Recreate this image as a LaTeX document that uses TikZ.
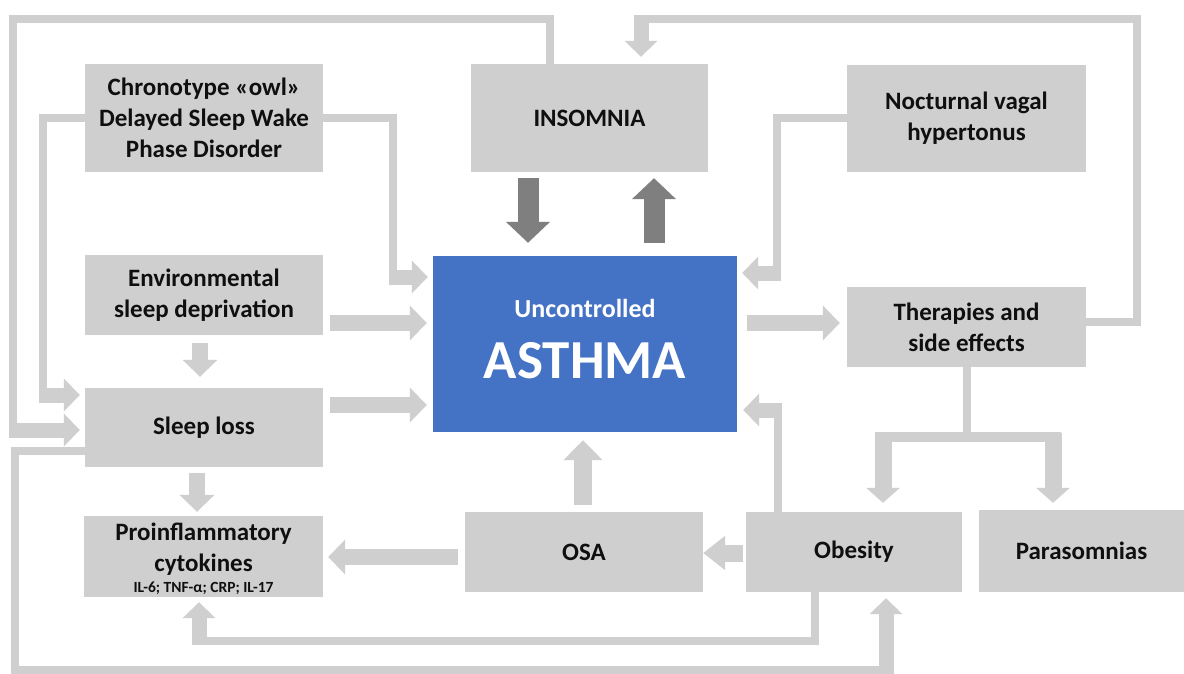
\documentclass[tikz,border=0pt]{standalone}
\usepackage{fontspec}
\setmainfont{Carlito}
\usetikzlibrary{arrows.meta,calc}
\definecolor{boxgray}{RGB}{208,207,207}
\definecolor{arrgray}{RGB}{207,207,207}
\definecolor{darkarr}{RGB}{127,127,127}
\definecolor{asthmablue}{RGB}{68,114,196}
\definecolor{txt}{RGB}{15,15,15}
\tikzset{
  box/.style={fill=boxgray,draw=none,inner sep=0pt,align=center,text=txt,
    font=\fontsize{25}{31}\selectfont\bfseries},
  conn/.style={draw=arrgray,line width=8pt,line join=miter},
  fatb/.style={draw=arrgray,line width=15pt,-{Triangle[width=32pt,length=16pt]}},
  fat/.style={draw=arrgray,line width=16pt,-{Triangle[width=34pt,length=17pt]}},
  darkarrow/.style={draw=darkarr,line width=21pt,-{Triangle[width=43pt,length=21pt]}},
}
\begin{document}
\begin{tikzpicture}[x=1pt,y=-1pt]
\useasboundingbox[fill=white] (0,0) rectangle (1184,674);

% boxes
\node[box,minimum width=238pt,minimum height=108pt] (chrono) at (204,118) {Chronotype «owl»\\Delayed Sleep Wake\\Phase Disorder};
\node[box,minimum width=238pt,minimum height=80pt] (env) at (204,295) {Environmental\\sleep deprivation};
\node[box,minimum width=238pt,minimum height=79pt] (sleep) at (204,427.5) {Sleep loss};
\node[box,minimum width=239pt,minimum height=81pt] (proinf) at (203.5,556.5) {};
\node[box,fill=none] (proinftxt) at (203.5,549) {Proinflammatory\\cytokines};
\node[box,fill=none,font=\fontsize{15.5}{17}\selectfont\bfseries] (cyto) at (203.5,588) {IL-6; TNF-α; CRP; IL-17};
\node[box,minimum width=237pt,minimum height=108pt] (insom) at (589.5,118) {INSOMNIA};
\node[fill=asthmablue,draw=none,minimum width=304pt,minimum height=176pt,inner sep=0pt] (asthma) at (585,344) {};
\node[text=white,font=\fontsize{26}{30}\selectfont\bfseries] (unc) at (585,308) {Uncontrolled};
\node[text=white,font=\fontsize{55}{60}\selectfont\bfseries] (asthmatxt) at (585,361) {ASTHMA};
\node[box,minimum width=239pt,minimum height=107pt] (noct) at (966.5,118.5) {Nocturnal vagal\\hypertonus};
\node[box,minimum width=239pt,minimum height=80pt] (ther) at (966.5,327) {Therapies and\\side effects};
\node[box,minimum width=238pt,minimum height=80pt] (osa) at (584,552) {OSA};
\node[box,minimum width=216pt,minimum height=80pt] (obes) at (854,552) {Obesity};
\node[box,minimum width=205pt,minimum height=82pt] (para) at (1081.5,551) {Parasomnias};

% straight arrows
\draw[fat] ($(env.east)+(7,28)$) -- ($(asthma.west)+(-6,-21)$);
\draw[fat] ($(sleep.east)+(7,-22.5)$) -- ($(asthma.west)+(-6,61)$);
\draw[fat] ($(env.south)+(-4,8)$) -- ($(sleep.north)+(-4,-11)$);
\draw[fat] ($(sleep.south)+(-7,6)$) -- ($(proinf.north)+(-6.5,-4)$);
\draw[fat] ($(asthma.east)+(10,-21)$) -- ($(ther.west)+(-7,-4)$);
\draw[draw=arrgray,line width=18pt,-{Triangle[width=38pt,length=20pt]}] ($(osa.north)+(-1,-7)$) -- ($(asthma.south)+(-2,8)$);
\draw[draw=arrgray,line width=17pt,-{Triangle[width=33pt,length=22pt]}] ($(obes.west)+(-3,1)$) -- ($(osa.east)+(0,1)$);
\draw[fat] ($(osa.west)+(-7,5)$) -- ($(proinf.east)+(5,0.5)$);

% dark arrows
\draw[darkarrow] ($(insom.south)+(-61.5,6)$) -- ($(asthma.north)+(-57,-13)$);
\draw[darkarrow] ($(asthma.north)+(69,-13)$) -- ($(insom.south)+(64.5,6)$);

% INSOMNIA top loop to sleep loss
\draw[conn] ($(insom.north)+(-39.5,0)$) -- (550,19) -- (13,19) -- (13,430);
\draw[fatb] (9,430) -- ($(sleep.west)+(-5,2.5)$);

% chronotype left to sleep loss
\draw[conn] (chrono.west) -- (43,118) -- (43,395);
\draw[fatb] (39,395) -- ($(sleep.west)+(-5,-32.5)$);

% chronotype right to asthma
\draw[conn] (chrono.east) -- (393,118) -- (393,277);
\draw[fatb] (389,277) -- ($(asthma.west)+(-5,-67)$);

% nocturnal to asthma
\draw[conn] (noct.west) -- (777,118.5) -- (777,273);
\draw[fatb] (781,273) -- ($(asthma.east)+(5,-71)$);

% therapies right loop to insomnia
\draw[conn] ($(ther.east)+(0,-5)$) -- (1137,322) -- (1137,19) -- (641,19);
\draw[fatb] (641,15) -- ($(insom.north)+(51.5,-7)$);

% obesity to asthma
\draw[conn] ($(obes.north)+(-76,0)$) -- (778,410);
\draw[fatb] (782,410) -- ($(asthma.east)+(6,66)$);

% therapies down to obesity and parasomnias
\draw[conn] (ther.south) -- (966.5,437);
\draw[draw=arrgray,line width=10pt] (875,437) -- (1061,437);
\draw[draw=arrgray,line width=17pt,-{Triangle[width=33pt,length=15pt]}] (883,433) -- ($(obes.north)+(29,-9)$);
\draw[draw=arrgray,line width=17pt,-{Triangle[width=33pt,length=15pt]}] (1053,433) -- ($(para.north)+(-28.5,-7)$);

% sleep loss bottom loop to obesity
\draw[conn] ($(sleep.west)+(0,23.5)$) -- (15,451) -- (15,670) -- (886,670);
\draw[fatb] (886,674) -- ($(obes.south)+(32,6)$);

% obesity to proinflammatory
\draw[conn] ($(obes.south)+(-39,0)$) -- (815,641) -- (199,641);
\draw[fatb] (199,645) -- ($(proinf.south)+(-4.5,5)$);
\end{tikzpicture}
\end{document}
